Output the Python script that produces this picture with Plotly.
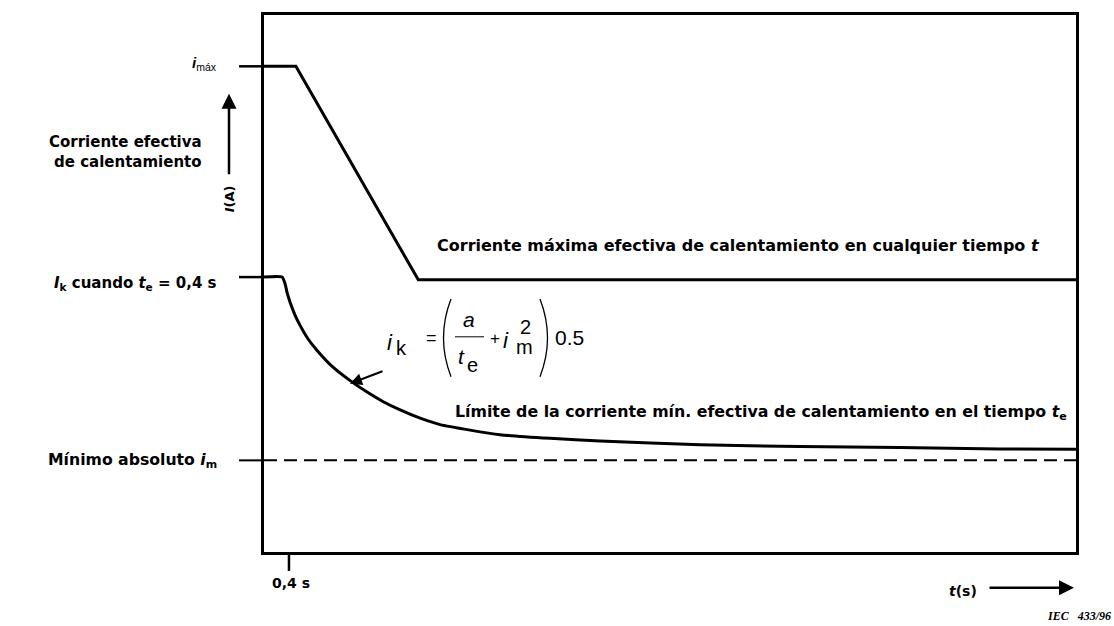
import plotly.graph_objects as go

# Time axis (s) and current axis (arbitrary units)
t_range = [0.0, 13.0]
i_range = [0.0, 5.86]

i_max = 5.30      # peak effective heating current
i_k04 = 3.00      # I_k when t_e = 0.4 s
i_m = 1.00        # absolute minimum
t_tick = 0.4

# Maximum effective heating current at any time t
t_upper = [0.0, 0.51, 2.47, 13.0]
i_upper = [5.30, 5.30, 2.97, 2.97]

# Minimum effective heating current limit at time t_e
t_lower = [0.0, 0.29, 0.34, 0.37, 0.42, 0.50, 0.58, 0.70, 0.85, 1.10, 1.38, 1.65,
           1.91, 2.18, 2.50, 2.82, 3.30, 3.78, 4.58, 5.38, 6.98, 8.58, 10.18, 11.78, 13.0]
i_lower = [3.00, 3.00, 2.92, 2.83, 2.72, 2.58, 2.47, 2.33, 2.20, 2.02, 1.87, 1.745,
           1.64, 1.55, 1.46, 1.39, 1.33, 1.28, 1.24, 1.21, 1.17, 1.15, 1.14, 1.125, 1.12]

W, H = 1114, 626
L, R, T, B = 264, 1076, 13, 552


def px(x):
    return (x - L) / (R - L)


def py(y):
    return (B - y) / (B - T)


FONT = "DejaVu Sans, Verdana, sans-serif"
FF = "Liberation Sans, Arial, sans-serif"
fig = go.Figure()

fig.add_trace(go.Scatter(x=t_upper, y=i_upper, mode="lines",
                         line=dict(color="black", width=3), hoverinfo="skip"))
fig.add_trace(go.Scatter(x=t_lower, y=i_lower, mode="lines",
                         line=dict(color="black", width=3, shape="spline", smoothing=0.5),
                         hoverinfo="skip"))
fig.add_trace(go.Scatter(x=t_range, y=[i_m, i_m], mode="lines",
                         line=dict(color="black", width=2, dash="13px,7px"), hoverinfo="skip"))

shapes = []
# level marks to the left of the current axis
for lvl, w in [(i_max, 2.5), (i_k04, 2.5), (i_m, 2)]:
    shapes.append(dict(type="line", xref="paper", yref="y", x0=px(239), x1=0,
                       y0=lvl, y1=lvl, line=dict(color="black", width=w)))
# 0.4 s tick under the time axis
shapes.append(dict(type="line", xref="x", yref="paper", x0=t_tick, x1=t_tick,
                   y0=0, y1=py(571), line=dict(color="black", width=2.5)))
# fraction bar and parentheses of the formula
shapes.append(dict(type="line", xref="paper", yref="paper", x0=px(455), x1=px(484),
                   y0=py(336), y1=py(336), line=dict(color="black", width=1)))


def paren(xa, xb, y0, y1):
    return (f"M {px(xa)} {py(y0)} Q {px(xb)} {py((y0 + y1) / 2)} {px(xa)} {py(y1)}")


shapes.append(dict(type="path", xref="paper", yref="paper", path=paren(451, 436, 298, 376),
                   line=dict(color="black", width=1.3)))
shapes.append(dict(type="path", xref="paper", yref="paper", path=paren(540, 555, 298, 376),
                   line=dict(color="black", width=1.3)))

ann = []


def txt(x, y, s, size=13, xanchor="center", family=FONT, angle=0, weight="bold"):
    ann.append(dict(x=px(x), y=py(y), xref="paper", yref="paper", text=s, showarrow=False,
                    xanchor=xanchor, yanchor="middle", textangle=angle,
                    font=dict(family=family, size=size, color="black", weight=weight)))


# left-hand labels
txt(219, 62, "<b><i>i</i></b><sub>máx</sub>", size=15, xanchor="right", weight="normal", family=FF)
txt(204, 140, "Corriente efectiva", size=15, xanchor="right")
txt(204, 161, "de calentamiento", size=15, xanchor="right")
txt(229, 198, "<i>I</i>(A)", size=13, angle=-90)
txt(219, 283, "<i>I</i><sub>k</sub> cuando <i>t</i><sub>e</sub> = 0,4 s", size=15, xanchor="right")
txt(219, 460, "Mínimo absoluto <i>i</i><sub>m</sub>", size=15.7, xanchor="right")

# curve labels
txt(435, 244, "Corriente máxima efectiva de calentamiento en cualquier tiempo <i>t</i>",
    size=16, xanchor="left")
txt(453, 412, "Límite de la corriente mín. efectiva de calentamiento en el tiempo <i>t</i><sub>e</sub>",
    size=15.8, xanchor="left")

# bottom labels
txt(291, 583, "0,4 s", size=14)
txt(963, 591, "<i>t</i>(s)", size=14)
txt(1113, 616, "<b><i>IEC   433/96</i></b>", size=12, xanchor="right",
    family="Liberation Serif, Times New Roman, serif")

# formula  i_k = (a / t_e + i_m^2) 0.5
txt(390, 342, "<i>i</i>", size=22, family=FF, weight="normal")
txt(401, 347, "k", size=20, family=FF, weight="normal")
txt(431, 337, "=", size=18, family=FF, weight="normal")
txt(469, 319, "<i>a</i>", size=21, family=FF, weight="normal")
txt(461, 356, "<i>t</i>", size=21, family=FF, weight="normal")
txt(472, 364, "e", size=20, family=FF, weight="normal")
txt(495, 338, "+", size=17, family=FF, weight="normal")
txt(506, 340, "<i>i</i>", size=22, family=FF, weight="normal")
txt(525, 326, "2", size=20, family=FF, weight="normal")
txt(524, 346, "m", size=20, family=FF, weight="normal")
txt(553, 337, "0.5", size=21, family=FF, weight="normal", xanchor="left")

# arrows
ann.append(dict(x=px(229), y=py(92), xref="paper", yref="paper", ax=0, ay=82, text="",
                showarrow=True, arrowhead=2, arrowsize=1.2, arrowwidth=2.5, arrowcolor="black"))
ann.append(dict(x=px(1074), y=py(588), xref="paper", yref="paper", ax=-86, ay=0, text="",
                showarrow=True, arrowhead=2, arrowsize=1.2, arrowwidth=2.5, arrowcolor="black"))
ann.append(dict(x=px(350), y=py(383), xref="paper", yref="paper", ax=34, ay=-13, text="",
                showarrow=True, arrowhead=2, arrowsize=1.2, arrowwidth=2, arrowcolor="black"))

axis_common = dict(showline=True, linecolor="black", linewidth=2.5, mirror=True,
                   showgrid=False, zeroline=False, showticklabels=False, ticks="")
fig.update_layout(
    width=W, height=H,
    margin=dict(l=L, r=W - R, t=T, b=H - B),
    paper_bgcolor="white", plot_bgcolor="white",
    showlegend=False,
    xaxis=dict(range=t_range, **axis_common),
    yaxis=dict(range=i_range, **axis_common),
    shapes=shapes, annotations=ann,
)

fig.write_html("out.html")
